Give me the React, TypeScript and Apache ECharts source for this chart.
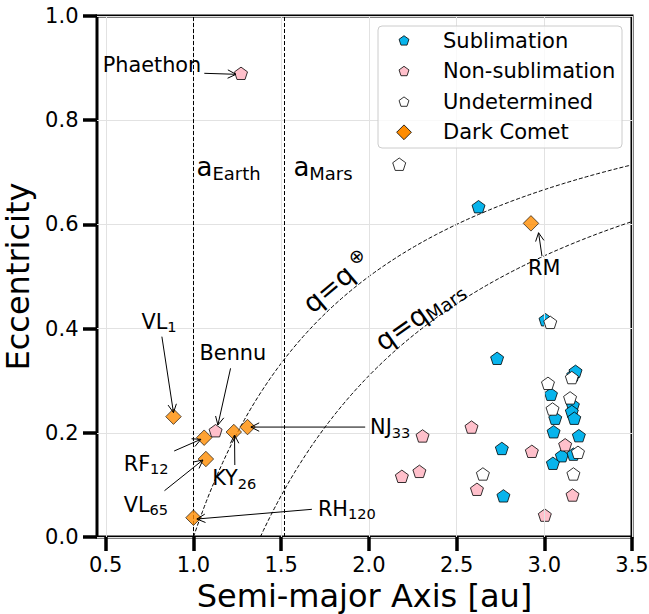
import React, { useEffect, useRef } from "react";
import * as echarts from "echarts";

// ---------------- data ----------------
const xTicks = [0.5, 1.0, 1.5, 2.0, 2.5, 3.0, 3.5];
const yTicks = [0, 0.2, 0.4, 0.6, 0.8, 1.0];

const sublimation: [number, number][] = [
  [2.625, 0.634], [3.007, 0.417], [2.731, 0.343], [2.758, 0.170], [2.767, 0.079],
  [3.165, 0.311], [3.178, 0.318], [3.038, 0.274], [3.163, 0.253], [3.157, 0.241],
  [3.0625, 0.228], [3.171, 0.228], [3.053, 0.202], [3.197, 0.1945], [3.100, 0.156],
  [3.166, 0.159], [3.049, 0.1415],
];

const nonSublimation: [number, number][] = [
  [1.271, 0.890], [1.126, 0.204], [2.306, 0.194], [2.585, 0.211], [2.929, 0.1645],
  [2.188, 0.1165], [2.288, 0.126], [2.616, 0.0916], [3.003, 0.042], [3.119, 0.177],
  [3.161, 0.0806],
];

const undetermined: [number, number][] = [
  [2.173, 0.7155], [3.034, 0.412], [3.157, 0.306], [3.021, 0.295], [3.147, 0.267],
  [3.047, 0.2457], [3.192, 0.1626], [3.166, 0.121], [2.650, 0.121],
];

const darkCometNames = ["VL1", "RF12", "VL65", "KY26", "NJ33", "RH120", "RM"];
const darkComets: [number, number][] = [
  [0.886, 0.231], [1.061, 0.1906], [1.0707, 0.1497], [1.230, 0.2015],
  [1.308, 0.211], [1.0, 0.037], [2.924, 0.602],
];

const aEarth = 1.0;
const aMars = 1.524;
const qEarth = 1.0;
const qMars = 1.381;

// ---------------- styles ----------------
const FONT = "DejaVu Sans";
const BLUE = "#08b4ec";
const PINK = "#ffc0cb";
const WHITE = "#ffffff";
const ORANGE = "#ff8c00";
const PENT = "path://M0,-1L0.9511,-0.309L0.5878,0.809L-0.5878,0.809L-0.9511,-0.309Z";

function curve(q: number): [number, number][] {
  const pts: [number, number][] = [];
  const n = 240;
  for (let i = 0; i <= n; i++) {
    const a = q + ((3.5 - q) * i) / n;
    pts.push([a, 1 - q / a]);
  }
  return pts;
}

const richBase = (main: number, sub: number) => ({
  m: { fontSize: main, fontFamily: FONT, fill: "#000", lineHeight: main * 1.2 },
  s: { fontSize: sub, fontFamily: FONT, fill: "#000", verticalAlign: "bottom" as const, lineHeight: sub * 1.2 },
  o: { fontSize: sub, fontFamily: FONT, fill: "#000", verticalAlign: "top" as const, lineHeight: sub * 1.2 },
});

// annotation layout: target point, text offset, arrow start offset, arrow tip offset (pixels)
const annotations = [
  { point: nonSublimation[0], label: "{m|Phaethon}", text: [-89, -8], from: [-36.7, 0], tip: [-5, 1] },
  { point: darkComets[0], label: "{m|VL}{s|1}", text: [-14.5, -95], from: [-11.6, -80], tip: [0, -4] },
  { point: nonSublimation[1], label: "{m|Bennu}", text: [17.3, -78], from: [15, -62.4], tip: [2.3, -5.7] },
  { point: darkComets[1], label: "{m|RF}{s|12}", text: [-58, 26], from: [-30, 13.3], tip: [-3.3, 1.6] },
  { point: darkComets[2], label: "{m|VL}{s|65}", text: [-60, 45.5], from: [-41.4, 31.7], tip: [-3, 1] },
  { point: darkComets[3], label: "{m|KY}{s|26}", text: [0.4, 46], from: [1, 33], tip: [0.7, 3] },
  { point: darkComets[4], label: "{m|NJ}{s|33}", text: [142.7, 0], from: [117.7, 0], tip: [3.4, 0] },
  { point: darkComets[5], label: "{m|RH}{s|120}", text: [153.4, -9], from: [118.4, -8.4], tip: [3.4, 1.3] },
  { point: darkComets[6], label: "{m|RM}", text: [13.3, 45], from: [11, 32.7], tip: [7.6, 9.4] },
];

const legendItems = [
  { name: "Sublimation", color: BLUE, shape: "pent" },
  { name: "Non-sublimation", color: PINK, shape: "pent" },
  { name: "Undetermined", color: WHITE, shape: "pent" },
  { name: "Dark Comet", color: ORANGE, shape: "diamond" },
];

export default function App() {
  const ref = useRef<HTMLDivElement>(null);

  useEffect(() => {
    document.body.style.margin = "0";
    const chart = echarts.init(ref.current as HTMLDivElement, null, { renderer: "svg" });
    const scatterBase = {
      type: "scatter" as const,
      symbol: PENT,
      symbolSize: [13, 12.4],
      itemStyle: { borderColor: "#000", borderWidth: 0.8, opacity: 1 },
      emphasis: { disabled: true },
    };
    const option: any = {
      animation: false,
      grid: {
        left: 97, right: 17, top: 16, bottom: 77,
        containLabel: false, outerBoundsMode: "none",
        show: true, borderColor: "#000", borderWidth: 3, backgroundColor: "transparent",
      },
      xAxis: {
        type: "value", min: 0.45, max: 3.5,
        axisLine: { show: false },
        axisTick: { show: true, length: 14, lineStyle: { width: 3.5, color: "#000" }, customValues: xTicks },
        axisLabel: {
          customValues: xTicks, formatter: (v: number) => v.toFixed(1),
          fontSize: 21, fontFamily: FONT, color: "#000", margin: 17,
        },
        splitLine: { show: false },
        name: "Semi-major Axis [au]", nameLocation: "middle", nameGap: 40,
        nameTextStyle: { fontSize: 32, fontFamily: FONT, color: "#000" },
      },
      yAxis: {
        type: "value", min: 0, max: 1, interval: 0.2,
        axisLine: { show: false },
        axisTick: { show: true, length: 14, lineStyle: { width: 3.5, color: "#000" } },
        axisLabel: {
          formatter: (v: number) => v.toFixed(1),
          fontSize: 21, fontFamily: FONT, color: "#000", margin: 18.5,
        },
        splitLine: { show: true, lineStyle: { color: "#e2e2e2", width: 1 } },
        name: "Eccentricity", nameLocation: "middle", nameGap: 54,
        nameTextStyle: { fontSize: 32, fontFamily: FONT, color: "#000" },
      },
      series: [
        {
          type: "scatter", data: [], z: 1, silent: true,
          markLine: {
            silent: true, symbol: ["none", "none"], label: { show: false },
            lineStyle: { color: "#e2e2e2", width: 1, type: "solid" },
            data: xTicks.map((v) => ({ xAxis: v })),
          },
        },
        {
          type: "scatter", data: [], z: 2, silent: true,
          markLine: {
            silent: true, symbol: ["none", "none"], label: { show: false },
            lineStyle: { color: "#000", width: 1, type: [4, 2] },
            data: [{ xAxis: aEarth }, { xAxis: aMars }],
          },
        },
        {
          type: "line", data: curve(qEarth), showSymbol: false, symbol: "none", z: 2, silent: true,
          lineStyle: { color: "#000", width: 1, type: [4, 2] },
        },
        {
          type: "line", data: curve(qMars), showSymbol: false, symbol: "none", z: 2, silent: true,
          lineStyle: { color: "#000", width: 1, type: [4, 2] },
        },
        { ...scatterBase, name: "Sublimation", data: sublimation, z: 3, itemStyle: { ...scatterBase.itemStyle, color: BLUE } },
        { ...scatterBase, name: "Non-sublimation", data: nonSublimation, z: 4, itemStyle: { ...scatterBase.itemStyle, color: PINK } },
        { ...scatterBase, name: "Undetermined", data: undetermined, z: 5, itemStyle: { ...scatterBase.itemStyle, color: WHITE } },
        {
          type: "scatter", name: "Dark Comet", symbol: "diamond", symbolSize: 15.5, z: 6,
          data: darkComets.map((p, i) => ({ name: darkCometNames[i], value: p })),
          itemStyle: { color: ORANGE, borderColor: "#000", borderWidth: 0.8 },
          emphasis: { disabled: true },
        },
      ],
    };
    chart.setOption(option);

    const px = (p: number[]) => chart.convertToPixel({ gridIndex: 0 }, p) as number[];
    const g: any[] = [];
    const rich = richBase(20.8, 14.6);

    // annotations with arrows
    annotations.forEach((an) => {
      const P = px(an.point);
      const sx = P[0] + an.from[0], sy = P[1] + an.from[1];
      const tx = P[0] + an.tip[0], ty = P[1] + an.tip[1];
      const dx = tx - sx, dy = ty - sy;
      const len = Math.hypot(dx, dy);
      const ux = dx / len, uy = dy / len;
      const L = 8.3, W = 4.2;
      g.push({ type: "line", z: 20, shape: { x1: sx, y1: sy, x2: tx, y2: ty }, style: { stroke: "#000", lineWidth: 1 } });
      g.push({
        type: "polyline", z: 20,
        shape: { points: [[tx - L * ux - W * uy, ty - L * uy + W * ux], [tx, ty], [tx - L * ux + W * uy, ty - L * uy - W * ux]] },
        style: { stroke: "#000", lineWidth: 1, fill: "none" },
      });
      g.push({
        type: "text", z: 21, x: P[0] + an.text[0], y: P[1] + an.text[1],
        style: { text: an.label, rich, align: "center", verticalAlign: "middle", fill: "#000" },
      });
    });

    // a_Earth / a_Mars labels
    const ey = px([aEarth, 0.71])[1];
    const richA = richBase(26, 18);
    g.push({ type: "text", z: 21, x: px([aEarth, 0])[0] + 3, y: ey, style: { text: "{m|a}{s|Earth}", rich: richA, align: "left", verticalAlign: "middle" } });
    g.push({ type: "text", z: 21, x: px([aMars, 0])[0] + 8, y: ey, style: { text: "{m|a}{s|Mars}", rich: richA, align: "left", verticalAlign: "middle" } });

    // q labels
    const richQ = richBase(27, 18.5);
    const q1 = px([1.815, 0.49]);
    g.push({ type: "text", z: 21, x: q1[0], y: q1[1], rotation: (40 * Math.PI) / 180, style: { text: "{m|q=q}{o| ⊕}", rich: richQ, align: "center", verticalAlign: "middle" } });
    const q2 = px([2.287, 0.426]);
    g.push({ type: "text", z: 21, x: q2[0], y: q2[1], rotation: (35 * Math.PI) / 180, style: { text: "{m|q=q}{s|Mars}", rich: richQ, align: "center", verticalAlign: "middle" } });

    // legend
    const lx = 378, ly = 26, lw = 244, lh = 122;
    g.push({ type: "rect", z: 30, shape: { x: lx, y: ly, width: lw, height: lh, r: 4 }, style: { fill: "rgba(255,255,255,0.8)", stroke: "#cccccc", lineWidth: 1 } });
    legendItems.forEach((it, i) => {
      const cy = 40.5 + i * 30.6;
      const cx = 404;
      if (it.shape === "pent") {
        const r = 5.2;
        const pts = [0, 1, 2, 3, 4].map((k) => {
          const ang = -Math.PI / 2 + (k * 2 * Math.PI) / 5;
          return [cx + r * Math.cos(ang), cy + 0.4 + r * Math.sin(ang)];
        });
        g.push({ type: "polygon", z: 31, shape: { points: pts }, style: { fill: it.color, stroke: "#000", lineWidth: 0.8 } });
      } else {
        const r = 7.4;
        g.push({ type: "polygon", z: 31, shape: { points: [[cx, cy - r], [cx + r, cy], [cx, cy + r], [cx - r, cy]] }, style: { fill: it.color, stroke: "#000", lineWidth: 0.8 } });
      }
      g.push({ type: "text", z: 31, x: 443, y: cy, style: { text: it.name, fontSize: 21, fontFamily: FONT, fill: "#000", align: "left", verticalAlign: "middle" } });
    });

    chart.setOption({ graphic: g });
    return () => chart.dispose();
  }, []);

  return <div ref={ref} style={{ width: 649, height: 614 }} />;
}
